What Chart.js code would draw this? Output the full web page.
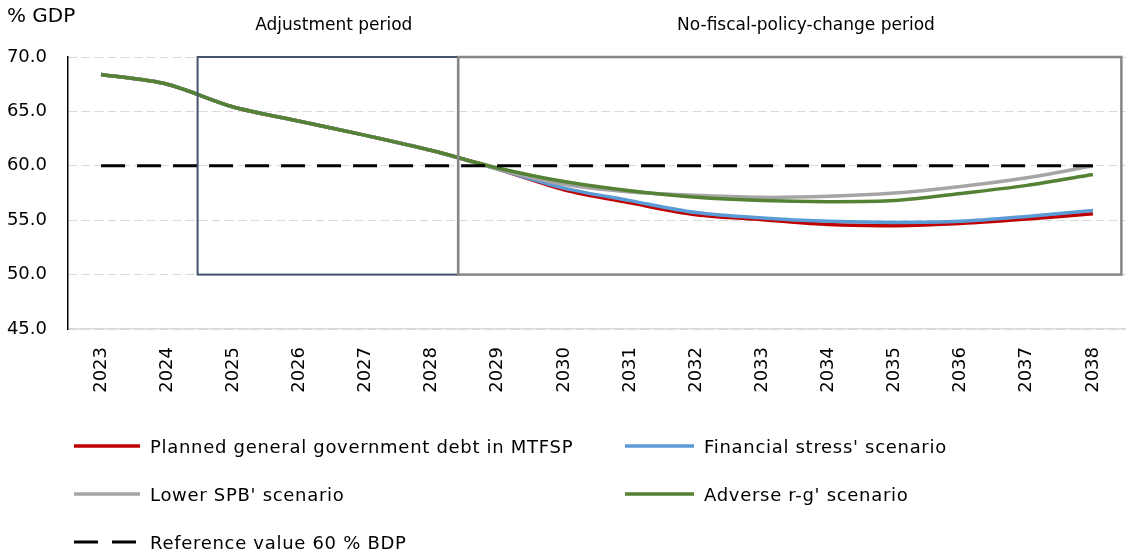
<!DOCTYPE html>
<html>
<head>
<meta charset="utf-8">
<title>General government debt scenarios</title>
<script src="https://cdn.jsdelivr.net/npm/chart.js@4.4.1/dist/chart.umd.min.js"></script>
<style>
  html, body { margin: 0; padding: 0; background: #fff; }
  #wrap { position: relative; width: 1126px; height: 553px; overflow: hidden; }
  #c { position: absolute; left: 0; top: 0; }
  #legend { position: absolute; left: 0; top: 0; width: 1126px; height: 553px; pointer-events: none;
            font-family: "DejaVu Sans", sans-serif; font-size: 18px; letter-spacing: 0.7px; color: #000; }
  .item { position: absolute; display: flex; align-items: center; height: 26px; white-space: nowrap; }
  .item svg { display: block; margin-right: 10px; }
</style>
</head>
<body>
<div id="wrap">
  <canvas id="c" width="1126" height="553"></canvas>
  <div id="legend"></div>
</div>
<script>
// Years on the horizontal axis
const years = ['2023','2024','2025','2026','2027','2028','2029','2030',
               '2031','2032','2033','2034','2035','2036','2037','2038'];

// Debt ratio paths, % of GDP
const plannedDebt     = [68.4, 67.5, 65.4, 64.1, 62.8, 61.4, 59.7, 57.8, 56.6, 55.5, 55.05, 54.6, 54.5, 54.7, 55.1, 55.6];
const financialStress = [68.4, 67.5, 65.4, 64.1, 62.8, 61.4, 59.7, 57.95, 56.8, 55.7, 55.2, 54.9, 54.8, 54.9, 55.35, 55.9];
const lowerSpb        = [68.4, 67.5, 65.4, 64.1, 62.8, 61.4, 59.7, 58.3, 57.6, 57.3, 57.1, 57.2, 57.5, 58.1, 58.9, 60.0];
const adverseRg       = [68.4, 67.5, 65.4, 64.1, 62.8, 61.4, 59.8, 58.55, 57.7, 57.1, 56.8, 56.7, 56.8, 57.45, 58.2, 59.2];
const referenceValue  = [60, 60, 60, 60, 60, 60, 60, 60, 60, 60, 60, 60, 60, 60, 60, 60];

// Series names
const seriesNames = {
  planned: 'Planned general government debt in MTFSP',
  stress: "Financial stress' scenario",
  lower: "Lower SPB' scenario",
  adverse: "Adverse r-g' scenario",
  reference: 'Reference value 60 % BDP'
};

// Periods shown as framed bands (category units, debt range in % GDP)
const periodLabels  = ['Adjustment period', 'No-fiscal-policy-change period'];
const periodStart   = [1.46, 5.4];
const periodEnd     = [5.4, 15.43];
const periodLabelAt = [3.52, 10.66];
const periodRange   = [50, 70];

const yTicks = [45, 50, 55, 60, 65, 70];
const yUnit = '% GDP';

// Styles
const seriesStyle = {
  planned:   { color: '#C00000', width: 3.5, dash: [] },
  stress:    { color: '#5B9BD5', width: 3.5, dash: [] },
  lower:     { color: '#A5A5A5', width: 3.5, dash: [] },
  adverse:   { color: '#548235', width: 3.5, dash: [] },
  reference: { color: '#000000', width: 3, dash: [24, 12] }
};
const periodStyle = [
  { color: '#44546A', width: 2 },
  { color: '#868686', width: 2.5 }
];
const FONT = '"DejaVu Sans", sans-serif';

function ds(key, data, order) {
  const s = seriesStyle[key];
  return {
    label: seriesNames[key], data, order,
    borderColor: s.color, backgroundColor: s.color,
    borderWidth: s.width, borderDash: s.dash, borderCapStyle: 'butt',
    pointRadius: 0, pointHoverRadius: 0, fill: false,
    tension: key === 'reference' ? 0 : 0.3
  };
}

const periodPlugin = {
  id: 'periodFrames',
  afterDatasetsDraw(chart) {
    const { ctx, scales: { x, y } } = chart;
    const top = y.getPixelForValue(periodRange[1]);
    const bottom = y.getPixelForValue(periodRange[0]);
    ctx.save();
    periodLabels.forEach((label, i) => {
      const l = x.getPixelForValue(periodStart[i]);
      const r = x.getPixelForValue(periodEnd[i]);
      ctx.strokeStyle = periodStyle[i].color;
      ctx.lineWidth = periodStyle[i].width;
      ctx.strokeRect(l, top, r - l, bottom - top);
    });
    // period captions
    ctx.fillStyle = '#000';
    ctx.font = '17px ' + FONT;
    ctx.textAlign = 'center';
    ctx.textBaseline = 'middle';
    periodLabels.forEach((label, i) => {
      ctx.fillText(label, x.getPixelForValue(periodLabelAt[i]), 26);
    });
    // unit caption
    ctx.font = '20px ' + FONT;
    ctx.textAlign = 'left';
    ctx.fillText(yUnit, 7, 17);
    ctx.restore();
  }
};

const chart = new Chart(document.getElementById('c'), {
  type: 'line',
  data: {
    labels: years,
    datasets: [
      ds('reference', referenceValue, 0),
      ds('adverse', adverseRg, 1),
      ds('lower', lowerSpb, 2),
      ds('stress', financialStress, 3),
      ds('planned', plannedDebt, 4)
    ]
  },
  options: {
    responsive: false,
    animation: false,
    events: [],
    layout: { padding: { top: 57, left: 0, right: 0, bottom: 124 } },
    plugins: { legend: { display: false }, tooltip: { enabled: false } },
    scales: {
      x: {
        offset: true,
        grid: { display: false, drawTicks: false },
        border: { display: true, color: '#D9D9D9', width: 1.5 },
        ticks: {
          minRotation: 90, maxRotation: 90, autoSkip: false, padding: 18,
          color: '#000', font: { family: FONT, size: 18 }
        },
        afterFit(scale) {
          scale.height = 100;
          scale.paddingLeft = 0;
          scale.paddingRight = 0;
        }
      },
      y: {
        min: 45, max: 70,
        afterBuildTicks(scale) { scale.ticks = yTicks.map(v => ({ value: v })); },
        grid: { color: '#D9D9D9', lineWidth: 1, drawTicks: false },
        border: { display: true, color: '#000', width: 1.5, dash: [9, 4] },
        ticks: {
          padding: 21, color: '#000', font: { family: FONT, size: 18 },
          callback: v => Number(v).toFixed(1)
        },
        afterFit(scale) { scale.width = 68; }
      }
    }
  },
  plugins: [periodPlugin]
});

// Legend drawn as HTML, two columns
(function buildLegend() {
  const layout = [
    { key: 'planned',   x: 74,  y: 446, w: 66 },
    { key: 'stress',    x: 625, y: 446, w: 69 },
    { key: 'lower',     x: 74,  y: 494, w: 66 },
    { key: 'adverse',   x: 625, y: 494, w: 69 },
    { key: 'reference', x: 74,  y: 542, w: 66 }
  ];
  const box = document.getElementById('legend');
  const ns = 'http://www.w3.org/2000/svg';
  layout.forEach(it => {
    const s = seriesStyle[it.key];
    const div = document.createElement('div');
    div.className = 'item';
    div.style.left = it.x + 'px';
    div.style.top = (it.y - 13) + 'px';
    const svg = document.createElementNS(ns, 'svg');
    svg.setAttribute('width', it.w);
    svg.setAttribute('height', 8);
    const line = document.createElementNS(ns, 'line');
    line.setAttribute('x1', 0); line.setAttribute('x2', it.w);
    line.setAttribute('y1', 4); line.setAttribute('y2', 4);
    line.setAttribute('stroke', s.color);
    line.setAttribute('stroke-width', s.width);
    if (s.dash.length) line.setAttribute('stroke-dasharray', '24 14');
    svg.appendChild(line);
    div.appendChild(svg);
    const span = document.createElement('span');
    span.textContent = seriesNames[it.key];
    div.appendChild(span);
    box.appendChild(div);
  });
})();
</script>
</body>
</html>
